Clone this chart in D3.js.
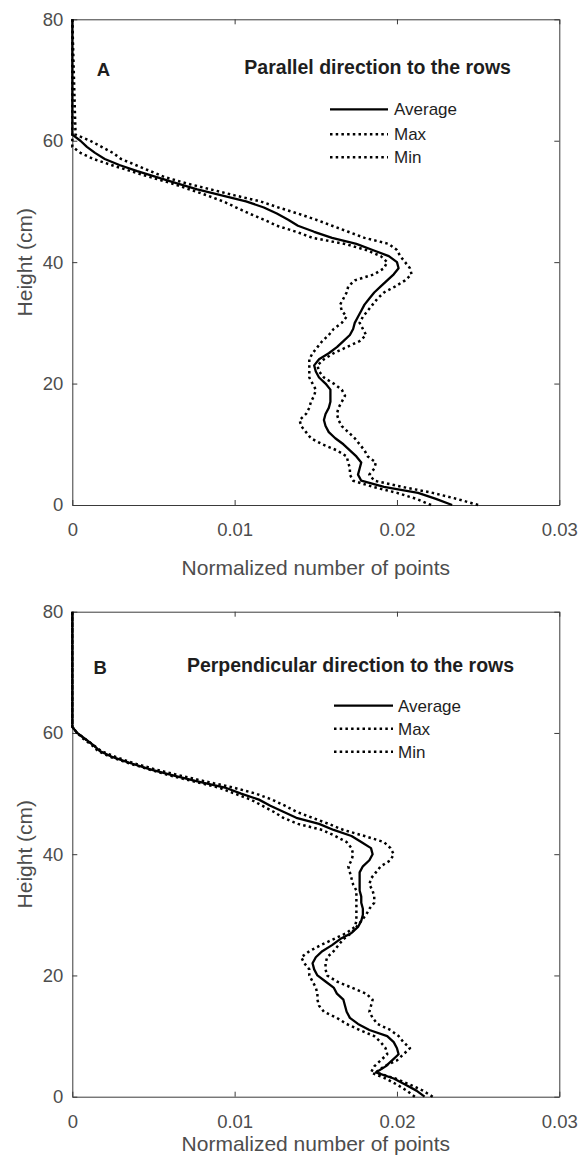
<!DOCTYPE html>
<html>
<head>
<meta charset="utf-8">
<script src="https://cdn.jsdelivr.net/npm/d3@7"></script>
<style>
  html, body { margin: 0; padding: 0; background: #fff; }
  svg { display: block; font-family: "Liberation Sans", Arial, Helvetica, sans-serif; }
</style>
</head>
<body>
<svg id="chart" width="581" height="1160"></svg>
<script>
// Vertical point-density profiles (height in cm vs. normalized number of points)

const heightCm = [0,1,2,3,4,5,6,7,8,9,10,11,12,13,14,15,16,17,18,19,20,
  21,22,23,24,25,26,27,28,29,30,31,32,33,34,35,36,37,38,39,40,
  41,42,43,44,45,46,47,48,49,50,51,52,53,54,55,56,57,58,59,60,61,80];

// Panel A: parallel direction to the rows
const parallelAvg = [0.0234,0.0224,0.0213,0.0192,0.0178,0.0176,0.0177,0.0178,0.0175,0.0171,0.0167,
  0.0162,0.0158,0.0156,0.0155,0.0156,0.0158,0.0159,0.0159,0.0159,0.0156,
  0.0152,0.0150,0.0149,0.0152,0.0158,0.0163,0.0167,0.0171,0.0173,0.0174,
  0.0176,0.0178,0.0180,0.0183,0.0186,0.0190,0.0194,0.0198,0.0201,0.0200,
  0.0195,0.0185,0.0175,0.0160,0.0149,0.0139,0.0133,0.0126,0.0118,0.0107,
  0.0092,0.0077,0.0064,0.0052,0.0040,0.0029,0.0020,0.0014,0.0009,0.0005,0,0];
const parallelMax = [0.0250,0.0237,0.0222,0.0203,0.0186,0.0183,0.0186,0.0187,0.0182,0.0180,0.0177,
  0.0174,0.0170,0.0166,0.0164,0.0163,0.0164,0.0166,0.0168,0.0166,0.0161,
  0.0155,0.0152,0.0151,0.0155,0.0161,0.0169,0.0177,0.0181,0.0179,0.0177,
  0.0179,0.0182,0.0185,0.0188,0.0192,0.0199,0.0205,0.0209,0.0208,0.0205,
  0.0202,0.0200,0.0195,0.0180,0.0170,0.0160,0.0150,0.0139,0.0127,0.0116,
  0.0100,0.0085,0.0070,0.0057,0.0048,0.0039,0.0030,0.0025,0.0018,0.0011,0.0002,0];
const parallelMin = [0.0221,0.0212,0.0200,0.0185,0.0173,0.0171,0.0171,0.0170,0.0169,0.0163,0.0154,
  0.0147,0.0144,0.0141,0.0140,0.0144,0.0146,0.0147,0.0149,0.0150,0.0148,
  0.0146,0.0146,0.0146,0.0146,0.0148,0.0151,0.0154,0.0158,0.0161,0.0166,
  0.0169,0.0166,0.0165,0.0167,0.0169,0.0170,0.0174,0.0186,0.0192,0.0194,
  0.0190,0.0181,0.0168,0.0148,0.0138,0.0126,0.0118,0.0109,0.0101,0.0093,
  0.0083,0.0072,0.0061,0.0048,0.0036,0.0024,0.0013,0.0005,0,0,0,0];

// Panel B: perpendicular direction to the rows
const perpAvg = [0.0217,0.0212,0.0205,0.0198,0.0187,0.0193,0.0197,0.0201,0.0200,0.0198,0.0194,
  0.0183,0.0176,0.0171,0.0169,0.0168,0.0167,0.0163,0.0161,0.0156,0.0151,
  0.0149,0.0148,0.0150,0.0154,0.0160,0.0165,0.0172,0.0176,0.0178,0.0179,
  0.0179,0.0178,0.0178,0.0177,0.0177,0.0177,0.0177,0.0179,0.0183,0.0185,
  0.0184,0.0178,0.0172,0.0161,0.0152,0.0138,0.0130,0.0122,0.0115,0.0104,
  0.0094,0.0077,0.0062,0.0048,0.0036,0.0025,0.0017,0.0013,0.0008,0.0003,0,0];
const perpMax = [0.0222,0.0216,0.0208,0.0199,0.0187,0.0192,0.0200,0.0204,0.0208,0.0204,0.0201,
  0.0196,0.0188,0.0185,0.0183,0.0184,0.0185,0.0181,0.0172,0.0163,0.0157,
  0.0156,0.0156,0.0157,0.0161,0.0164,0.0167,0.0172,0.0175,0.0178,0.0181,
  0.0183,0.0186,0.0186,0.0185,0.0183,0.0184,0.0187,0.0190,0.0196,0.0198,
  0.0196,0.0192,0.0180,0.0167,0.0158,0.0148,0.0138,0.0131,0.0123,0.0113,
  0.0099,0.0082,0.0066,0.0051,0.0038,0.0027,0.0018,0.0013,0.0008,0.0003,0,0];
const perpMin = [0.0211,0.0206,0.0200,0.0193,0.0184,0.0186,0.0190,0.0194,0.0193,0.0190,0.0186,
  0.0177,0.0169,0.0163,0.0155,0.0152,0.0151,0.0151,0.0150,0.0148,0.0146,
  0.0146,0.0143,0.0141,0.0146,0.0153,0.0161,0.0169,0.0174,0.0175,0.0175,
  0.0175,0.0175,0.0175,0.0175,0.0173,0.0172,0.0171,0.0170,0.0172,0.0173,
  0.0172,0.0169,0.0162,0.0154,0.0139,0.0130,0.0124,0.0117,0.0110,0.0100,
  0.0090,0.0075,0.0060,0.0047,0.0035,0.0024,0.0016,0.0012,0.0007,0.0003,0,0];

const xTicks = [0, 0.01, 0.02, 0.03];
const xTickLabels = ["0", "0.01", "0.02", "0.03"];
const yTicks = [0, 20, 40, 60, 80];
const seriesNames = ["Average", "Max", "Min"];

const xTitle = "Normalized number of points";
const yTitle = "Height (cm)";

const svg = d3.select("#chart");
const plotLeft = 72.3, plotRight = 559.3;
const axisColor = "#3a3a3a";
const tickTextColor = "#4d4d4d";
const darkText = "#1e1e1e";

const panels = [
  {
    letter: "A", title: "Parallel direction to the rows",
    top: 19.3, bottom: 505, xLabelGap: 63,
    letterPos: [0.0015, 70.6], titlePos: [0.0106, 71.0],
    legend: { x0: 257.7, x1: 315.7, tx: 321.7, rows: [90, 115, 138] },
    series: [parallelAvg, parallelMax, parallelMin]
  },
  {
    letter: "B", title: "Perpendicular direction to the rows",
    top: 611.7, bottom: 1096.7, xLabelGap: 47,
    letterPos: [0.0013, 69.8], titlePos: [0.00706, 70.1],
    legend: { x0: 261.7, x1: 320.7, tx: 325.7, rows: [94, 117, 140] },
    series: [perpAvg, perpMax, perpMin]
  }
];

const styles = [
  { width: 2.3, dash: null },
  { width: 2.5, dash: "2.5,3.2" },
  { width: 2.5, dash: "2.5,3.2" }
];

panels.forEach(p => {
  const x = d3.scaleLinear().domain([0, 0.03]).range([plotLeft, plotRight]);
  const y = d3.scaleLinear().domain([0, 80]).range([p.bottom, p.top]);
  const g = svg.append("g");

  // Axis box with inward ticks on all four sides
  const styleAxis = sel => {
    sel.select(".domain").attr("stroke", axisColor).attr("stroke-width", 1);
    sel.selectAll(".tick line").attr("stroke", axisColor).attr("stroke-width", 1);
    sel.selectAll(".tick text").attr("fill", tickTextColor)
      .attr("font-size", 18.5).attr("font-family", "Liberation Sans, Arial, sans-serif");
  };

  g.append("g").attr("transform", `translate(0,${p.bottom})`)
    .call(d3.axisBottom(x).tickValues(xTicks).tickFormat((d, i) => xTickLabels[i])
      .tickSizeInner(-5).tickSizeOuter(0).tickPadding(18))
    .call(styleAxis);
  g.append("g").attr("transform", `translate(0,${p.top})`)
    .call(d3.axisTop(x).tickValues(xTicks).tickFormat("")
      .tickSizeInner(-5).tickSizeOuter(0))
    .call(styleAxis);
  g.append("g").attr("transform", `translate(${plotLeft},0)`)
    .call(d3.axisLeft(y).tickValues(yTicks).tickFormat(d3.format("d"))
      .tickSizeInner(-5).tickSizeOuter(0).tickPadding(9))
    .call(styleAxis);
  g.append("g").attr("transform", `translate(${plotRight},0)`)
    .call(d3.axisRight(y).tickValues(yTicks).tickFormat("")
      .tickSizeInner(-5).tickSizeOuter(0))
    .call(styleAxis);

  // Axis titles
  g.append("text")
    .attr("x", (plotLeft + plotRight) / 2)
    .attr("y", p.bottom + p.xLabelGap)
    .attr("dy", "0.35em")
    .attr("text-anchor", "middle")
    .attr("font-size", 21)
    .attr("fill", tickTextColor)
    .text(xTitle);
  g.append("text")
    .attr("transform", `translate(25,${(p.top + p.bottom) / 2}) rotate(-90)`)
    .attr("dy", "0.35em")
    .attr("text-anchor", "middle")
    .attr("font-size", 21)
    .attr("fill", tickTextColor)
    .text(yTitle);

  // Profiles: dotted Max/Min first, solid Average on top
  [1, 2, 0].forEach(si => {
    const vals = p.series[si];
    const line = d3.line()
      .x((d, i) => x(vals[i]))
      .y((d, i) => y(heightCm[i]));
    g.append("path")
      .datum(heightCm)
      .attr("d", line)
      .attr("fill", "none")
      .attr("stroke", "#000")
      .attr("stroke-width", styles[si].width)
      .attr("stroke-dasharray", styles[si].dash)
      .attr("stroke-linejoin", "round");
  });

  // Panel letter and title
  g.append("text")
    .attr("x", x(p.letterPos[0])).attr("y", y(p.letterPos[1]))
    .attr("font-size", 18.5).attr("font-weight", "bold").attr("fill", darkText)
    .text(p.letter);
  g.append("text")
    .attr("x", x(p.titlePos[0])).attr("y", y(p.titlePos[1]))
    .attr("font-size", 19.5).attr("font-weight", "bold").attr("fill", darkText)
    .text(p.title);

  // Legend
  const lg = g.append("g");
  seriesNames.forEach((name, si) => {
    const ly = p.top + p.legend.rows[si];
    lg.append("line")
      .attr("x1", plotLeft + p.legend.x0).attr("x2", plotLeft + p.legend.x1)
      .attr("y1", ly).attr("y2", ly)
      .attr("stroke", "#000")
      .attr("stroke-width", styles[si].width)
      .attr("stroke-dasharray", styles[si].dash);
    lg.append("text")
      .attr("x", plotLeft + p.legend.tx).attr("y", ly)
      .attr("dy", "0.35em")
      .attr("font-size", 17).attr("fill", darkText)
      .text(name);
  });
});
</script>
</body>
</html>
